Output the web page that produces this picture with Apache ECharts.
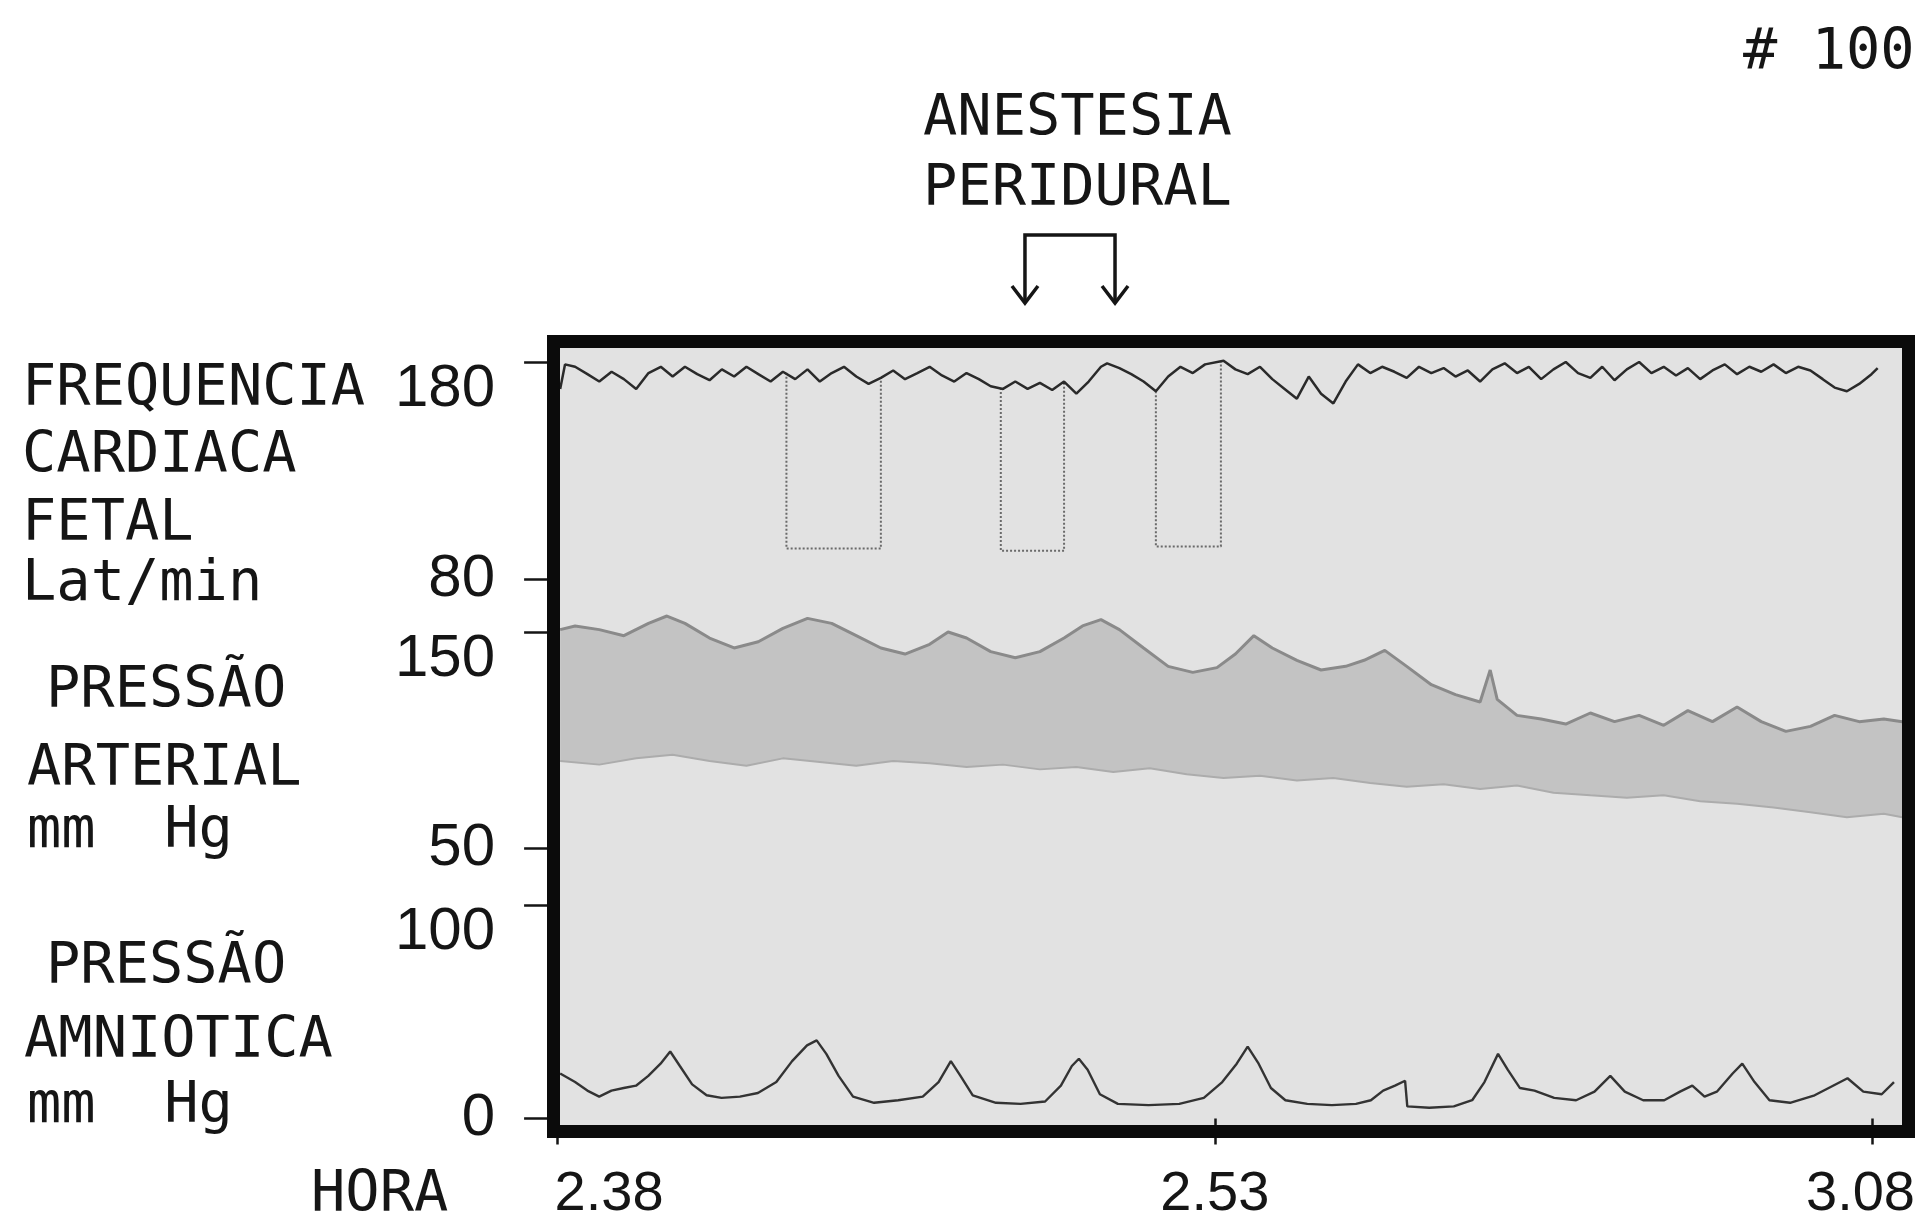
<!DOCTYPE html>
<html>
<head>
<meta charset="utf-8">
<script src="https://cdn.jsdelivr.net/npm/echarts@6/dist/echarts.min.js"></script>
<style>
html,body{margin:0;padding:0;background:#ffffff;}
#c{width:1918px;height:1223px;}
</style>
</head>
<body>
<div id="c"></div>
<script>
// ---------------- DATA (minutes after 2.38) ----------------
const xTickValues = [0, 15, 30];
const xTickLabels = ['2.38', '2.53', '3.08'];
const fhrTicks = [80, 180];
const bpTicks = [50, 150];
const amnTicks = [0, 100];

// Fetal heart rate (beats/min)
const fhrTime = [
  0.07, 0.18, 0.41,
  0.69, 0.96, 1.24, 1.52, 1.80, 2.08, 2.36, 2.63, 2.91, 3.19,
  3.47, 3.75, 4.03, 4.31, 4.58, 4.86, 5.14, 5.42, 5.70, 5.98,
  6.25, 6.53, 6.81, 7.09, 7.37, 7.65, 7.92, 8.20, 8.48, 8.76,
  9.04, 9.32, 9.60, 9.87, 10.15, 10.43, 10.71, 10.99, 11.27, 11.54,
  11.82, 12.10, 12.38,
  12.52, 12.80, 13.07, 13.35, 13.63, 13.91, 14.19, 14.47, 14.75,
  15.17, 15.44, 15.72, 16.00, 16.28, 16.56, 16.84, 17.11, 17.39, 17.67,
  17.95, 18.23, 18.51, 18.78, 19.06, 19.34, 19.62, 19.90, 20.18, 20.45,
  20.73, 21.01, 21.29, 21.57, 21.85, 22.12, 22.40, 22.68, 22.96, 23.24,
  23.52, 23.79, 24.07, 24.35, 24.63, 24.91, 25.19, 25.47, 25.74, 26.02,
  26.30, 26.58, 26.86, 27.14, 27.41, 27.69, 27.97, 28.25, 28.53, 28.81,
  29.08, 29.36, 29.64, 29.92,
  30.06
];
const fhrBpm = [
  167.6, 178.9, 177.8,
  174.4, 171.0, 175.5, 172.1, 167.6, 174.9, 177.8, 173.3, 177.8, 174.4,
  171.6, 176.6, 173.3, 177.8, 174.4, 171.0, 175.5, 172.1, 176.6, 171.0,
  174.9, 177.8, 173.3, 169.9, 172.7, 176.1, 172.1, 174.9, 177.8, 173.8,
  171.0, 174.9, 172.1, 168.8, 167.6, 171.0, 167.6, 170.4, 167.1, 171.0,
  165.4, 171.0, 177.8,
  179.4, 177.2, 174.4, 171.0, 166.5, 173.3, 177.8, 174.9, 178.9,
  180.6, 176.6, 174.4, 177.8, 172.1, 167.6, 163.1, 173.3, 165.4, 160.9,
  171.0, 178.9, 174.9, 177.8, 175.5, 172.7, 177.8, 174.9, 177.2, 173.3,
  176.1, 171.0, 176.6, 179.4, 174.9, 177.8, 172.1, 176.6, 180.0, 174.9,
  172.7, 177.8, 171.6, 176.6, 180.0, 174.9, 177.8, 173.8, 177.2, 172.1,
  176.1, 178.9, 174.4, 177.8, 175.5, 178.9, 174.9, 177.8, 176.1, 172.1,
  168.2, 166.5, 169.9, 174.4,
  177.2
];

// Signal drop-outs of the heart-rate pen
const dropStart    = [5.22, 10.10, 13.63];
const dropEnd      = [7.37, 11.54, 15.11];
const dropTopStart = [175.0, 168.0, 166.5];
const dropTopEnd   = [172.7, 171.0, 180.0];
const dropFloor    = [94, 93, 95];

// Maternal arterial pressure (mm Hg): systolic envelope and diastolic envelope
const bpSysTime = [
  0.07, 0.41, 0.96, 1.52, 2.08, 2.50, 2.91, 3.47, 4.03, 4.58,
  5.14, 5.70, 6.25, 6.81, 7.37, 7.92, 8.48, 8.90, 9.32, 9.87,
  10.43, 10.99, 11.54, 11.96, 12.38, 12.80, 13.35, 13.91, 14.47, 15.02,
  15.44, 15.86, 16.28, 16.84, 17.39, 17.95, 18.37, 18.84, 19.34, 19.90,
  20.45, 21.01, 21.24, 21.40, 21.85, 22.40, 22.96, 23.52, 24.07, 24.63,
  25.19, 25.74, 26.30, 26.86, 27.41, 27.97, 28.53, 29.08, 29.64, 30.20,
  30.62
];
const bpSys = [
  151.1, 152.8, 151.1, 148.3, 154.0, 157.4, 154.0, 147.2, 142.6, 145.5,
  151.7, 156.3, 154.0, 148.3, 142.6, 139.8, 144.3, 150.0, 147.2, 140.9,
  138.1, 140.9, 147.2, 152.8, 155.7, 151.1, 142.6, 134.1, 131.3, 133.5,
  139.8, 148.3, 142.6, 136.9, 132.4, 134.1, 136.9, 141.5, 134.1, 125.6,
  121.0, 117.6, 132.4, 118.8, 111.4, 109.7, 107.4, 112.5, 108.5, 111.4,
  106.8, 113.6, 108.5, 115.3, 108.5, 104.0, 106.3, 111.4, 108.5, 109.7,
  108.5
];
const bpDiaTime = [
  0.07, 0.96, 1.80, 2.63, 3.47, 4.31, 5.14, 5.98, 6.81, 7.65,
  8.48, 9.32, 10.15, 10.99, 11.82, 12.66, 13.49, 14.33, 15.17, 16.00,
  16.84, 17.67, 18.51, 19.34, 20.18, 21.01, 21.85, 22.68, 23.52, 24.35,
  25.19, 26.02, 26.86, 27.69, 28.53, 29.36, 30.20, 30.62
];
const bpDia = [
  90.3, 88.6, 91.5, 93.2, 90.3, 88.1, 91.5, 89.8, 88.1, 90.3,
  89.2, 87.5, 88.6, 86.4, 87.5, 85.2, 86.9, 84.1, 82.4, 83.5,
  81.3, 82.4, 80.1, 78.4, 79.5, 77.3, 78.9, 75.6, 74.4, 73.3,
  74.4, 71.6, 70.5, 68.8, 66.5, 64.2, 65.9, 64.2
];

// Amniotic pressure (mm Hg)
const amnTime = [
  0.07, 0.41, 0.69, 0.96, 1.24, 1.52, 1.80, 2.08, 2.36, 2.58,
  2.80, 3.08, 3.41, 3.75, 4.17, 4.58, 5.00, 5.36, 5.70, 5.92,
  6.14, 6.42, 6.75, 7.23, 7.78, 8.34, 8.70, 8.98, 9.20, 9.48,
  10.01, 10.57, 11.13, 11.49, 11.74, 11.90, 12.10, 12.38, 12.79, 13.49,
  14.19, 14.75, 15.17, 15.50, 15.75, 16.00, 16.28, 16.61, 17.11, 17.67,
  18.22, 18.56, 18.84, 19.11, 19.34, 19.39, 19.89, 20.45, 20.87, 21.15,
  21.46, 21.68, 21.96, 22.29, 22.74, 23.24, 23.66, 24.02, 24.35, 24.77,
  25.25, 25.61, 25.89, 26.17, 26.45, 26.81, 27.03, 27.31, 27.65, 28.12,
  28.68, 29.10, 29.43, 29.79, 30.21, 30.49
];
const amnP = [
  21.1, 17.1, 13.1, 10.3, 13.1, 14.3, 15.4, 20.0, 25.7, 31.4,
  24.6, 16.0, 10.9, 9.7, 10.3, 12.0, 17.1, 26.9, 34.3, 36.6,
  30.3, 20.0, 10.3, 7.4, 8.6, 10.3, 17.1, 26.9, 20.0, 10.9,
  7.4, 6.9, 8.0, 15.4, 24.6, 28.0, 22.9, 11.4, 6.9, 6.3,
  6.9, 9.7, 17.1, 25.7, 33.7, 25.7, 14.3, 8.6, 6.9, 6.3,
  6.9, 8.6, 13.1, 15.4, 17.7, 5.7, 5.1, 5.7, 8.6, 17.1,
  30.3, 22.9, 14.3, 13.1, 9.7, 8.6, 12.6, 20.0, 12.6, 8.6,
  8.6, 12.6, 15.4, 10.3, 12.6, 21.1, 25.7, 17.1, 8.6, 7.4,
  10.9, 15.4, 18.9, 12.6, 11.4, 17.1
];

// Epidural anaesthesia (two arrows)
const anesthesiaTimes = [10.65, 12.70];

// ---------------- LAYOUT ----------------
const FRAME = {left: 547, right: 1915, top: 335, bottom: 1138, thick: 13};
const X_MIN = -0.23, X_MAX = 30.91;
const fhrPlace = {hiPx: 362, loPx: 579, min: 70, max: 187};
const bpPlace  = {hiPx: 632, loPx: 848, min: 35, max: 165};
const amnPlace = {hiPx: 905, loPx: 1119, min: -3, max: 110};

const INK = '#151515';
const NUM_FONT = 'Liberation Sans';
const TXT_FONT = 'DejaVu Sans Mono';

function gridFor(place, ticks) {
  const ppu = (place.loPx - place.hiPx) / (ticks[1] - ticks[0]);
  return {
    left: FRAME.left,
    width: FRAME.right - FRAME.left,
    top: place.hiPx - (place.max - ticks[1]) * ppu,
    height: (place.max - place.min) * ppu
  };
}
function yAxisFor(i, place, ticks) {
  return {
    type: 'value', gridIndex: i, min: place.min, max: place.max,
    axisLine: {show: false}, splitLine: {show: false},
    axisTick: {show: true, customValues: ticks, length: 33, lineStyle: {color: INK, width: 2.5}},
    axisLabel: {
      show: true, customValues: ticks, margin: 52,
      fontFamily: NUM_FONT, fontSize: 60, color: INK, lineHeight: 54,
      formatter: v => (v === ticks[1] ? '\n' + v : String(v))
    }
  };
}
const XL = {fontFamily: NUM_FONT, fontSize: 56, color: INK};
function xAxisFor(i, show) {
  return {
    type: 'value', gridIndex: i, min: X_MIN, max: X_MAX,
    axisLine: {show: false}, splitLine: {show: false},
    axisTick: {show: show, customValues: xTickValues, length: 26, lineStyle: {color: INK, width: 2.5}},
    axisLabel: Object.assign({
      show: show, customValues: xTickValues, margin: 42,
      formatter: v => {
        const k = xTickValues.indexOf(v);
        const s = xTickLabels[k];
        if (k === 0) return '{f|' + s + '}';
        if (k === xTickValues.length - 1) return '{l|' + s + '}';
        return s;
      },
      rich: {
        f: Object.assign({padding: [0, 0, 0, 104]}, XL),
        l: Object.assign({padding: [0, 24, 0, 0]}, XL)
      }
    }, XL)
  };
}
const zip = (a, b) => a.map((t, i) => [t, b[i]]);

const dropSeries = dropStart.map((t0, k) => ({
  type: 'line', xAxisIndex: 0, yAxisIndex: 0, showSymbol: false, silent: true, z: 4,
  lineStyle: {color: '#6a6a6a', width: 2, type: 'dotted'},
  data: [[t0, dropTopStart[k]], [t0, dropFloor[k]], [dropEnd[k], dropFloor[k]], [dropEnd[k], dropTopEnd[k]]]
}));

const chart = echarts.init(document.getElementById('c'), null, {renderer: 'canvas', width: 1918, height: 1223});

chart.setOption({
  animation: false,
  backgroundColor: '#ffffff',
  grid: [gridFor(fhrPlace, fhrTicks), gridFor(bpPlace, bpTicks), gridFor(amnPlace, amnTicks)],
  xAxis: [xAxisFor(0, false), xAxisFor(1, false), xAxisFor(2, true)],
  yAxis: [yAxisFor(0, fhrPlace, fhrTicks), yAxisFor(1, bpPlace, bpTicks), yAxisFor(2, amnPlace, amnTicks)],
  series: [
    {
      type: 'custom', xAxisIndex: 1, yAxisIndex: 1, silent: true, z: 1,
      data: [[bpSysTime[0], bpSys[0]]],
      renderItem: (params, api) => {
        const pts = [];
        for (let i = 0; i < bpSysTime.length; i++) pts.push(api.coord([bpSysTime[i], bpSys[i]]));
        for (let i = bpDiaTime.length - 1; i >= 0; i--) pts.push(api.coord([bpDiaTime[i], bpDia[i]]));
        return {type: 'polygon', shape: {points: pts}, style: {fill: '#c3c3c3'}};
      }
    },
    {
      type: 'line', xAxisIndex: 1, yAxisIndex: 1, showSymbol: false, silent: true, z: 3,
      lineStyle: {color: '#8a8a8a', width: 3}, data: zip(bpSysTime, bpSys)
    },
    {
      type: 'line', xAxisIndex: 1, yAxisIndex: 1, showSymbol: false, silent: true, z: 3,
      lineStyle: {color: '#acacac', width: 2}, data: zip(bpDiaTime, bpDia)
    },
    ...dropSeries,
    {
      type: 'line', xAxisIndex: 0, yAxisIndex: 0, showSymbol: false, silent: true, z: 5,
      lineStyle: {color: '#2a2a2a', width: 2.5}, data: zip(fhrTime, fhrBpm)
    },
    {
      type: 'line', xAxisIndex: 2, yAxisIndex: 2, showSymbol: false, silent: true, z: 5,
      lineStyle: {color: '#333333', width: 2.4}, data: zip(amnTime, amnP)
    }
  ]
});

// ---------------- FRAME, TEXTS AND ANNOTATION ----------------
const ax = anesthesiaTimes.map(t => chart.convertToPixel({xAxisIndex: 0}, t));
const h = FRAME.thick / 2;
const txt = (s, x, y) => ({
  type: 'text', x: x, y: y, z: 30,
  style: {text: s, fontFamily: TXT_FONT, fontSize: 57, fill: INK, align: 'left', verticalAlign: 'middle'}
});
const ARROW_TOP = 235, ARROW_TIP = 303;
const graphics = [
  {type: 'rect', z: 0, silent: true,
   shape: {x: FRAME.left + h, y: FRAME.top + h, width: FRAME.right - FRAME.left - 2 * h, height: FRAME.bottom - FRAME.top - 2 * h},
   style: {fill: '#e2e2e2'}},
  {type: 'rect', z: 20, silent: true,
   shape: {x: FRAME.left + h, y: FRAME.top + h, width: FRAME.right - FRAME.left - 2 * h, height: FRAME.bottom - FRAME.top - 2 * h},
   style: {fill: 'none', stroke: '#0b0b0b', lineWidth: FRAME.thick}},
  txt('FREQUENCIA', 22, 390),
  txt('CARDIACA', 22, 457),
  txt('FETAL', 22, 525),
  txt('Lat/min', 22, 585),
  txt('PRESSÃO', 46, 692),
  txt('ARTERIAL', 27, 770),
  txt('mm  Hg', 27, 832),
  txt('PRESSÃO', 46, 968),
  txt('AMNIOTICA', 24, 1042),
  txt('mm  Hg', 27, 1107),
  txt('HORA', 311, 1196),
  txt('ANESTESIA', 923, 120),
  txt('PERIDURAL', 923, 190),
  txt('# 100', 1743, 54),
  {type: 'polyline', z: 30, silent: true,
   shape: {points: [[ax[0], ARROW_TIP], [ax[0], ARROW_TOP], [ax[1], ARROW_TOP], [ax[1], ARROW_TIP]]},
   style: {fill: 'none', stroke: INK, lineWidth: 3.5}}
];
ax.forEach(x => graphics.push({
  type: 'polyline', z: 30, silent: true,
  shape: {points: [[x - 13, ARROW_TIP - 17], [x, ARROW_TIP], [x + 13, ARROW_TIP - 17]]},
  style: {fill: 'none', stroke: INK, lineWidth: 3.5}
}));
chart.setOption({graphic: graphics});
</script>
</body>
</html>
